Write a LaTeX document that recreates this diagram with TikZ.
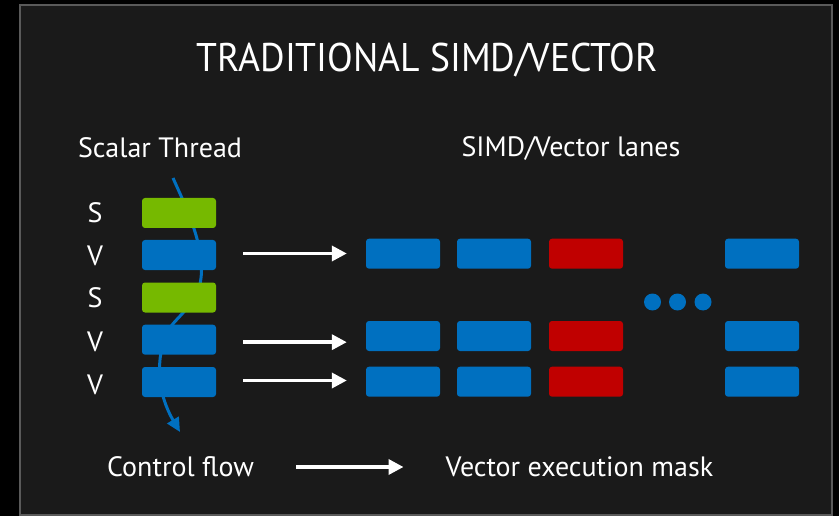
\documentclass[tikz,border=0pt]{standalone}
\usepackage{fontspec}
\setmainfont{PT Sans}
\usetikzlibrary{arrows.meta}
\definecolor{bgdark}{HTML}{1A1A1A}
\definecolor{frame}{HTML}{5A5A5A}
\definecolor{nvgreen}{HTML}{76B900}
\definecolor{laneblue}{HTML}{0070C0}
\definecolor{lanered}{HTML}{C00000}
\tikzset{
  lane/.style={rectangle, rounded corners=3pt, minimum width=74pt, minimum height=30pt, inner sep=0pt, draw=none},
  sbox/.style={lane, fill=nvgreen},
  vbox/.style={lane, fill=laneblue},
  rbox/.style={lane, fill=lanered},
  lbl/.style={text=white, inner sep=0pt, font=\fontsize{28}{31}\selectfont},
  warrow/.style={draw=white, line width=3.5pt, -{Triangle[length=15pt,width=15pt]}},
  dotc/.style={circle, fill=laneblue, minimum size=17pt, inner sep=0pt},
}
\begin{document}
\begin{tikzpicture}[x=1pt,y=-1pt]
\useasboundingbox (0,0) rectangle (839,516);
\fill[black] (0,0) rectangle (839,516);
\filldraw[fill=bgdark, draw=frame, line width=2pt] (20,5) rectangle (832,515);

\node[text=white, inner sep=0pt, font=\fontsize{40}{44}\selectfont] (title) at (427,60) {\scalebox{0.94}[1]{TRADITIONAL SIMD/VECTOR}};

\node[lbl] (hscalar) at (160,148) {Scalar Thread};
\node[lbl] (hsimd) at (571,148) {SIMD/Vector lanes};

% control flow curve (behind boxes)
\coordinate (cfstart) at (173,178);
\coordinate (cfend) at (180,432);
\draw[laneblue, line width=3pt, -{Triangle[length=14pt,width=13pt]}]
  (cfstart) .. controls (185,205) and (205,245) .. (201,278)
  .. controls (199,300) and (180,315) .. (172,325)
  .. controls (162,338) and (158,360) .. (160,380)
  .. controls (162,400) and (170,415) .. (cfend);

% scalar thread boxes
\node[sbox] (s1) at (179,213) {};
\node[vbox] (v1) at (179,255) {};
\node[sbox] (s2) at (179,297.5) {};
\node[vbox] (v2) at (179,339.7) {};
\node[vbox] (v3) at (179,382) {};

\node[lbl] (ls1) at (95,213) {S};
\node[lbl] (lv1) at (95,256) {V};
\node[lbl] (ls2) at (95,298) {S};
\node[lbl] (lv2) at (95,342) {V};
\node[lbl] (lv3) at (95,385) {V};

% vector lanes
\node[vbox] (a1) at (403,253.7) {};
\node[vbox] (b1) at (494,253.7) {};
\node[rbox] (c1) at (586,253.7) {};
\node[vbox] (d1) at (762,253.7) {};

\node[vbox] (a2) at (403,336) {};
\node[vbox] (b2) at (494,336) {};
\node[rbox] (c2) at (586,336) {};
\node[vbox] (d2) at (762,336) {};

\node[vbox] (a3) at (403,381.7) {};
\node[vbox] (b3) at (494,381.7) {};
\node[rbox] (c3) at (586,381.7) {};
\node[vbox] (d3) at (762,381.7) {};

\node[dotc] (dot1) at (652.5,302) {};
\node[dotc] (dot2) at (677.5,302) {};
\node[dotc] (dot3) at (703,302) {};

% arrows to the lanes
\draw[warrow, shorten <=27pt, shorten >=19pt] ([yshift=1.5pt]v1.east) -- ([yshift=1.5pt]v1.east -| a1.west);
\draw[warrow, shorten <=27pt, shorten >=19pt] ([yshift=-2.5pt]v2.east) -- ([yshift=-2.5pt]v2.east -| a2.west);
\draw[warrow, shorten <=27pt, shorten >=19pt] ([yshift=1.5pt]v3.east) -- ([yshift=1.5pt]v3.east -| a3.west);

% legend
\node[lbl] (cflow) at (180.5,467) {Control flow};
\node[lbl] (vmask) at (579.5,467) {Vector execution mask};
\draw[warrow] ([xshift=42pt]cflow.east) -- ([xshift=-42pt]vmask.west);
\end{tikzpicture}
\end{document}
